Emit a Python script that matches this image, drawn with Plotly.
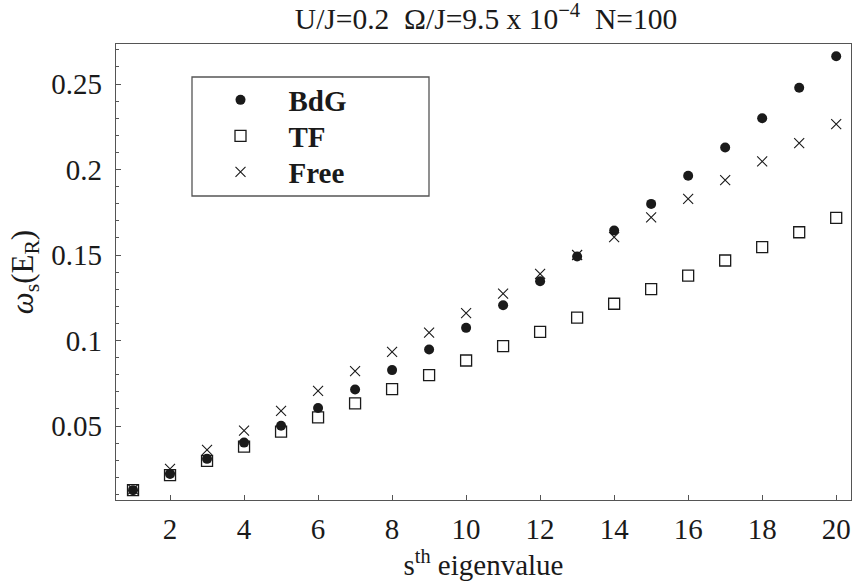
import plotly.graph_objects as go

# eigenvalue index s
s_index = list(range(1, 21))

# omega_s in units of E_R
bdg = [0.0125, 0.0220, 0.0308, 0.0403, 0.0502, 0.0605, 0.0714, 0.0827, 0.0947, 0.1074,
       0.1206, 0.1347, 0.1491, 0.1643, 0.1799, 0.1964, 0.2129, 0.2300, 0.2478, 0.2662]
tf = [0.0125, 0.0213, 0.0296, 0.0379, 0.0467, 0.0551, 0.0632, 0.0716, 0.0797, 0.0883,
      0.0967, 0.1050, 0.1134, 0.1215, 0.1301, 0.1380, 0.1468, 0.1546, 0.1633, 0.1717]
free = [0.0130, 0.0249, 0.0360, 0.0473, 0.0589, 0.0706, 0.0821, 0.0933, 0.1046, 0.1160,
        0.1274, 0.1390, 0.1500, 0.1604, 0.1720, 0.1828, 0.1938, 0.2047, 0.2154, 0.2265]

x_ticks = [2, 4, 6, 8, 10, 12, 14, 16, 18, 20]
y_ticks = [0.05, 0.1, 0.15, 0.2, 0.25]
y_tick_text = ['0.05', '0.1', '0.15', '0.2', '0.25']

FONT = 'Liberation Serif, Times New Roman, serif'
INK = '#1a1a1a'
FRAME = '#555555'

# plot frame in pixels: x 116..851, y 44..500
pw, ph = 735.0, 456.0


def legend_row(row_y):
    # one legend per entry so the row spacing can match the reference
    return dict(
        x=(192.5 - 116) / pw, xanchor='left',
        y=(500 - row_y) / ph, yanchor='middle',
        bgcolor='rgba(0,0,0,0)', borderwidth=0,
        font=dict(family=FONT, size=29, color=INK),
        itemwidth=86,
    )


fig = go.Figure()
fig.add_trace(go.Scatter(
    x=s_index, y=bdg, mode='markers', name='<b>BdG</b>', legend='legend',
    marker=dict(symbol='circle', size=10, color=INK, line=dict(width=0)),
))
fig.add_trace(go.Scatter(
    x=s_index, y=tf, mode='markers', name='<b>TF</b>', legend='legend2',
    marker=dict(symbol='square-open', size=11, color=INK, line=dict(width=1.3)),
))
fig.add_trace(go.Scatter(
    x=s_index, y=free, mode='markers', name='<b>Free</b>', legend='legend3',
    marker=dict(symbol='x-thin-open', size=10, color=INK, line=dict(width=1.1)),
))

fig.update_layout(
    width=855, height=588,
    margin=dict(l=116, r=4, t=44, b=88),
    paper_bgcolor='white', plot_bgcolor='white',
    font=dict(family=FONT, size=29, color=INK),
    title=dict(
        text='U/J=0.2\u00a0\u00a0\u03a9/J=9.5 x 10<sup>\u22124</sup>\u00a0\u00a0N=100',
        x=486 / 855, xanchor='center', xref='container',
        y=1 - 19 / 588, yanchor='middle', yref='container',
        font=dict(family=FONT, size=29.5, color=INK),
    ),
    showlegend=True,
    legend=legend_row(100),
    legend2=legend_row(136),
    legend3=legend_row(172),
    shapes=[dict(
        type='rect', xref='paper', yref='paper',
        x0=(192 - 116) / pw, x1=(429 - 116) / pw,
        y0=(500 - 196) / ph, y1=(500 - 77) / ph,
        line=dict(color=FRAME, width=1.3), fillcolor='rgba(0,0,0,0)',
    )],
)

fig.update_xaxes(
    range=[0.54, 20.4],
    tickvals=x_ticks, ticks='inside', ticklen=5, tickcolor=FRAME, tickwidth=1.2,
    showline=True, linecolor=FRAME, linewidth=1.3, mirror=True,
    showgrid=False, zeroline=False,
    tickfont=dict(family=FONT, size=29, color=INK),
    ticklabelstandoff=3,
    title=dict(text='s<sup>th</sup> eigenvalue', standoff=0,
               font=dict(family=FONT, size=29, color=INK)),
)
fig.update_yaxes(
    range=[0.00673, 0.2734],
    tickvals=y_ticks, ticktext=y_tick_text,
    ticks='inside', ticklen=5, tickcolor=FRAME, tickwidth=1.2,
    minor=dict(dtick=0.01, tick0=0, ticks='inside', ticklen=3, tickcolor=FRAME, tickwidth=1),
    showline=True, linecolor=FRAME, linewidth=1.3, mirror=True,
    showgrid=False, zeroline=False,
    tickfont=dict(family=FONT, size=29, color=INK),
    ticklabelstandoff=7,
    title=dict(text='<i>\u03c9</i><sub>s</sub>(E<sub>R</sub>)', standoff=8,
               font=dict(family=FONT, size=31, color=INK)),
)

# drop the default 8px body margin so the figure fills the window exactly
fig.write_html('out.html',
               config={'displayModeBar': False},
               post_script="document.body.style.margin='0';"
                           "document.body.style.overflow='hidden';")
